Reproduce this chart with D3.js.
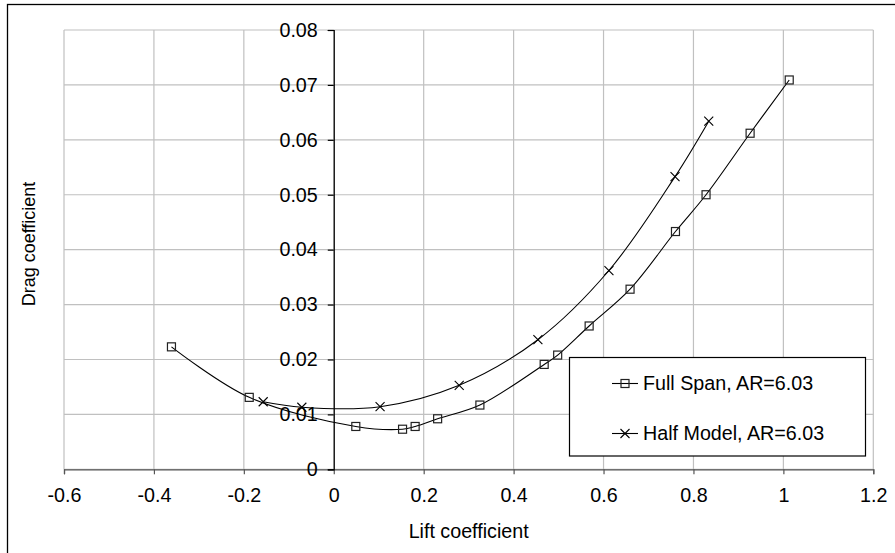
<!DOCTYPE html>
<html>
<head>
<meta charset="utf-8">
<script src="https://cdn.jsdelivr.net/npm/d3@7"></script>
<style>
  html, body { margin: 0; padding: 0; background: #fff; }
  svg { display: block; }
  text { font-family: "Liberation Sans", Arial, Helvetica, sans-serif; fill: #000; }
</style>
</head>
<body>
<svg id="chart" width="895" height="553"></svg>
<script>
// Data
const fullSpanCL = [-0.361, -0.188, 0.049, 0.153, 0.181, 0.231, 0.325, 0.468, 0.498, 0.568, 0.659, 0.760, 0.828, 0.926, 1.013];
const fullSpanCD = [0.0223, 0.0131, 0.0078, 0.0073, 0.0078, 0.0092, 0.0117, 0.0191, 0.0208, 0.0261, 0.0328, 0.0433, 0.0500, 0.0612, 0.0709];
const halfModelCL = [-0.157, -0.071, 0.103, 0.279, 0.454, 0.612, 0.759, 0.834];
const halfModelCD = [0.0123, 0.0113, 0.0114, 0.0153, 0.0236, 0.0362, 0.0533, 0.0634];
const xTicks = [-0.6, -0.4, -0.2, 0, 0.2, 0.4, 0.6, 0.8, 1, 1.2];
const xTickLabels = ["-0.6", "-0.4", "-0.2", "0", "0.2", "0.4", "0.6", "0.8", "1", "1.2"];
const yTicks = [0, 0.01, 0.02, 0.03, 0.04, 0.05, 0.06, 0.07, 0.08];
const yTickLabels = ["0", "0.01", "0.02", "0.03", "0.04", "0.05", "0.06", "0.07", "0.08"];
const seriesNames = ["Full Span, AR=6.03", "Half Model, AR=6.03"];
const xTitle = "Lift coefficient";
const yTitle = "Drag coefficient";

const FS = 19.7;
const svg = d3.select("#chart");
const L = 64, R = 873.3, T = 30, B = 469.3;
const x = d3.scaleLinear().domain([-0.6, 1.2]).range([L, R]);
const y = d3.scaleLinear().domain([0, 0.08]).range([B, T]);

// outer frame
svg.append("rect").attr("x", 7.5).attr("y", 4.5).attr("width", 1000).attr("height", 1000)
  .attr("fill", "none").attr("stroke", "#000").attr("stroke-width", 1.3);

// gridlines
const grid = svg.append("g").attr("stroke", "#c0c0c0").attr("stroke-width", 1.2);
xTicks.forEach(t => grid.append("line").attr("x1", x(t)).attr("x2", x(t)).attr("y1", T).attr("y2", B));
yTicks.forEach(t => grid.append("line").attr("x1", L).attr("x2", R).attr("y1", y(t)).attr("y2", y(t)));

// x axis at y=0
const xAxis = d3.axisBottom(x).tickValues(xTicks).tickSize(5).tickPadding(14)
  .tickFormat((d, i) => xTickLabels[i]);
const gx = svg.append("g").attr("transform", `translate(0,${y(0)})`).call(xAxis);
gx.select(".domain").attr("stroke", "#555").attr("stroke-width", 1.2);
gx.selectAll(".tick line").attr("stroke", "#555").attr("stroke-width", 1.2);
gx.selectAll("text").attr("font-size", FS).attr("font-family", "Liberation Sans, Arial, sans-serif").attr("fill", "#000");

// y axis at x=0
const yAxis = d3.axisLeft(y).tickValues(yTicks).tickSize(6).tickPadding(10)
  .tickFormat((d, i) => yTickLabels[i]);
const gy = svg.append("g").attr("transform", `translate(${x(0)},0)`).call(yAxis);
gy.select(".domain").attr("stroke", "#000").attr("stroke-width", 1.2);
gy.selectAll(".tick line").attr("stroke", "#000").attr("stroke-width", 1.2);
gy.selectAll("text").attr("font-size", FS).attr("font-family", "Liberation Sans, Arial, sans-serif").attr("fill", "#000");

// axis titles
svg.append("text").attr("x", (L + R) / 2).attr("y", 538).attr("text-anchor", "middle")
  .attr("font-size", FS).text(xTitle);
svg.append("text").attr("transform", `translate(35,${244}) rotate(-90)`).attr("text-anchor", "middle")
  .attr("font-size", 18).text(yTitle);

// series
const line = d3.line().x(d => x(d[0])).y(d => y(d[1])).curve(d3.curveCatmullRom.alpha(0.5));
const fs = fullSpanCL.map((v, i) => [v, fullSpanCD[i]]);
const hm = halfModelCL.map((v, i) => [v, halfModelCD[i]]);

svg.append("path").datum(fs).attr("d", line).attr("fill", "none").attr("stroke", "#000").attr("stroke-width", 1.1);
svg.append("path").datum(hm).attr("d", line).attr("fill", "none").attr("stroke", "#000").attr("stroke-width", 1.1);

const sq = 8;
function square(g, cx, cy) {
  g.append("rect").attr("x", cx - sq / 2).attr("y", cy - sq / 2).attr("width", sq).attr("height", sq)
    .attr("fill", "none").attr("stroke", "#222").attr("stroke-width", 1.2);
}
function cross(g, cx, cy) {
  const h = 4.5;
  g.append("path").attr("d", `M${cx - h},${cy - h}L${cx + h},${cy + h}M${cx - h},${cy + h}L${cx + h},${cy - h}`)
    .attr("stroke", "#000").attr("stroke-width", 1.1).attr("fill", "none");
}
const mk = svg.append("g");
fs.forEach(d => square(mk, x(d[0]), y(d[1])));
hm.forEach(d => cross(mk, x(d[0]), y(d[1])));

// legend
const lg = svg.append("g");
lg.append("rect").attr("x", 569.5).attr("y", 357.5).attr("width", 296).attr("height", 98.5)
  .attr("fill", "#fff").attr("stroke", "#000").attr("stroke-width", 1.2);
const rows = [383.5, 433.5];
rows.forEach((ry, i) => {
  lg.append("line").attr("x1", 612).attr("x2", 638).attr("y1", ry).attr("y2", ry)
    .attr("stroke", "#000").attr("stroke-width", 1.1);
  if (i === 0) square(lg, 625, ry); else cross(lg, 625, ry);
  lg.append("text").attr("x", 643).attr("y", ry).attr("dy", "0.35em").attr("font-size", FS).text(seriesNames[i]);
});
</script>
</body>
</html>
